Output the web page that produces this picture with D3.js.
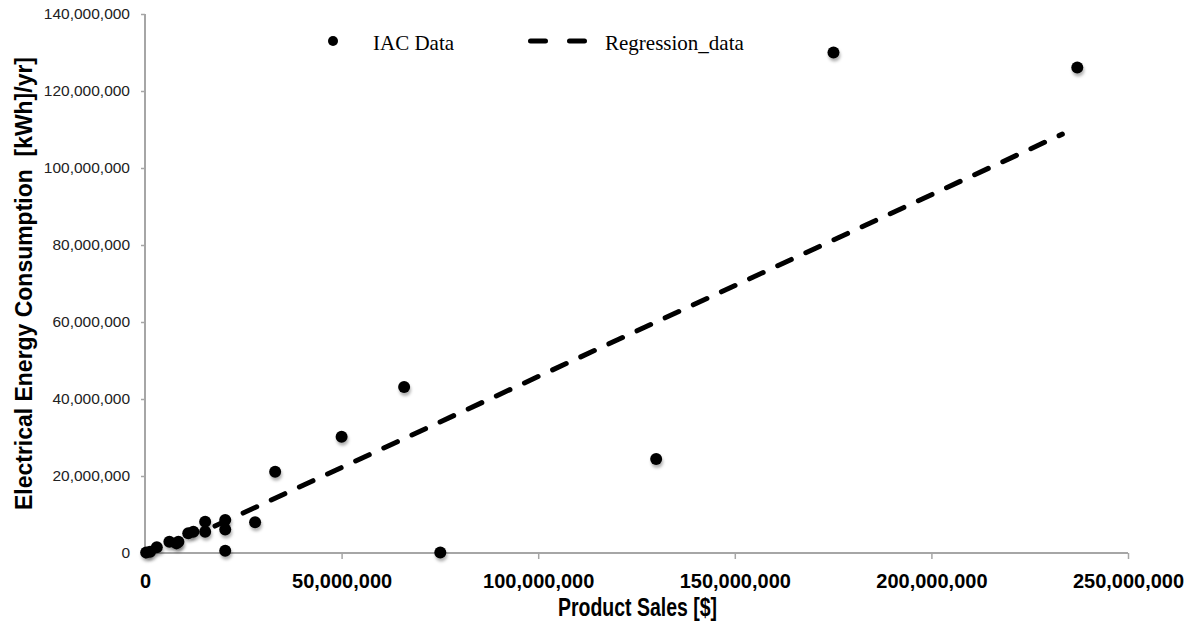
<!DOCTYPE html>
<html>
<head>
<meta charset="utf-8">
<script src="https://cdn.jsdelivr.net/npm/d3@7"></script>
<style>
  body { margin: 0; background: #fff; }
  svg { display: block; }
</style>
</head>
<body>
<svg id="chart" width="1197" height="624"></svg>
<script>
// IAC data points (product sales $, energy kWh/yr), in millions
const salesM = [0.3, 1.3, 3.0, 6.2, 8.0, 8.5, 11.0, 12.3, 15.3, 15.3, 20.4, 20.4, 20.4,
                28.0, 33.1, 50.0, 65.9, 75.1, 130.0, 175.1, 237.1];
const energyM = [0.1, 0.3, 1.5, 2.9, 2.5, 2.9, 5.1, 5.5, 8.1, 5.5, 8.6, 6.1, 0.6,
                 8.0, 21.1, 30.2, 43.1, 0.1, 24.4, 130.0, 126.1];

// regression line ends
const regSalesM = [17.8, 233.3];
const regEnergyM = [7.0, 108.8];

const xTicks = [0, 50e6, 100e6, 150e6, 200e6, 250e6];
const yTicks = [0, 20e6, 40e6, 60e6, 80e6, 100e6, 120e6, 140e6];

const points = salesM.map((s, i) => ({x: s * 1e6, y: energyM[i] * 1e6}));
const reg = regSalesM.map((s, i) => ({x: s * 1e6, y: regEnergyM[i] * 1e6}));

const svg = d3.select('#chart');
const AXIS_COLOR = '#a6a6a6';
const SANS = '"Liberation Sans", Arial, sans-serif';
const SERIF = '"Liberation Serif", "Times New Roman", serif';

const x = d3.scaleLinear().domain([0, 250e6]).range([145, 1128]);
const y = d3.scaleLinear().domain([0, 140e6]).range([553, 14]);
const fmt = d3.format(',');

// soft shadow under markers
const defs = svg.append('defs');
defs.append('filter').attr('id', 'shadow')
    .attr('x', '-50%').attr('y', '-50%').attr('width', '200%').attr('height', '250%')
  .append('feDropShadow')
    .attr('dx', 1).attr('dy', 3).attr('stdDeviation', 1.8)
    .attr('flood-color', '#000').attr('flood-opacity', 0.3);

// y axis
const yAxis = svg.append('g')
    .attr('transform', `translate(${x(0)},0)`)
    .call(d3.axisLeft(y).tickValues(yTicks).tickFormat(fmt).tickSize(4).tickPadding(11));
yAxis.select('.domain').attr('d', `M0,${y(140e6)}V${y(0)}`);

// x axis
const xAxis = svg.append('g')
    .attr('transform', `translate(0,${y(0)})`)
    .call(d3.axisBottom(x).tickValues(xTicks).tickFormat(fmt).tickSize(6).tickPadding(15));
xAxis.select('.domain').attr('d', `M${x(0)},0H${x(250e6)}`);

svg.selectAll('.domain').attr('stroke', AXIS_COLOR).attr('stroke-width', 2);
svg.selectAll('.tick line').attr('stroke', AXIS_COLOR).attr('stroke-width', 1.5);

yAxis.selectAll('.tick text')
    .attr('font-family', SANS).attr('font-size', 15.5).attr('fill', '#222');
xAxis.selectAll('.tick text')
    .attr('font-family', SANS).attr('font-size', 20).attr('font-weight', 'bold')
    .attr('fill', '#000');

// regression line
svg.append('path')
    .datum(reg)
    .attr('d', d3.line().x(d => x(d.x)).y(d => y(d.y)))
    .attr('fill', 'none')
    .attr('stroke', '#000')
    .attr('stroke-width', 5)
    .attr('stroke-linecap', 'round')
    .attr('stroke-dasharray', '15,16');

// data points
svg.append('g').selectAll('circle')
    .data(points)
  .enter().append('circle')
    .attr('cx', d => x(d.x))
    .attr('cy', d => y(d.y))
    .attr('r', 6)
    .attr('fill', '#000')
    .attr('filter', 'url(#shadow)');

// legend
const legend = svg.append('g');
legend.append('circle').attr('cx', 333).attr('cy', 41).attr('r', 5).attr('fill', '#000');
legend.append('text').attr('x', 373).attr('y', 50)
    .attr('font-family', SERIF).attr('font-size', 21).text('IAC Data');
legend.append('line')
    .attr('x1', 530.5).attr('x2', 584.5).attr('y1', 41).attr('y2', 41)
    .attr('stroke', '#000').attr('stroke-width', 5)
    .attr('stroke-linecap', 'round').attr('stroke-dasharray', '15,24');
legend.append('text').attr('x', 605).attr('y', 50)
    .attr('font-family', SERIF).attr('font-size', 21).text('Regression_data');

// axis titles
svg.append('text')
    .attr('x', 558).attr('y', 616)
    .attr('font-family', SANS).attr('font-size', 25).attr('font-weight', 'bold')
    .attr('textLength', 159).attr('lengthAdjust', 'spacingAndGlyphs')
    .text('Product Sales [$]');

svg.append('text')
    .attr('transform', 'translate(32,510) rotate(-90)')
    .attr('font-family', SANS).attr('font-size', 23).attr('font-weight', 'bold')
    .attr('textLength', 453).attr('lengthAdjust', 'spacingAndGlyphs')
    .style('white-space', 'pre')
    .text('Electrical Energy Consumption  [kWh]/yr]');
</script>
</body>
</html>
